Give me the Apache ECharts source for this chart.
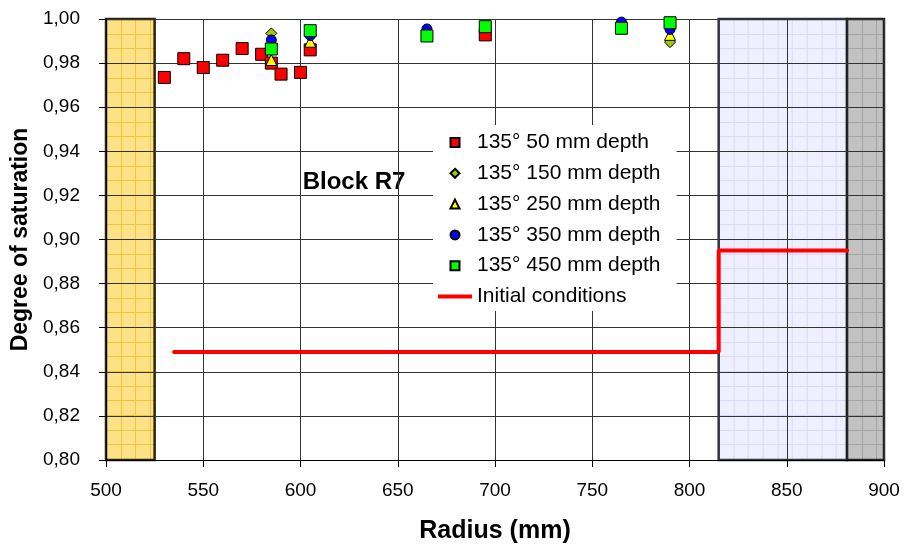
<!DOCTYPE html>
<html>
<head>
<meta charset="utf-8">
<script src="https://cdn.jsdelivr.net/npm/echarts@6/dist/echarts.min.js"></script>
<style>html,body{margin:0;padding:0;background:#fff}#c{width:909px;height:549px}</style>
</head>
<body>
<div id="c"></div>
<script>
// ---- data ----
const seriesNames = ['135° 50 mm depth', '135° 150 mm depth', '135° 250 mm depth', '135° 350 mm depth', '135° 450 mm depth', 'Initial conditions'];
const d50 = [[530,0.9735],[540,0.982],[550,0.978],[560,0.9813],[570,0.9866],[580,0.984],[585,0.980],[590,0.975],[600,0.9758],[605,0.986],[695,0.9928]];
const d150 = [[585,0.9935],[790,0.9895]];
const d250 = [[585,0.9814],[605,0.9897],[790,0.9928]];
const d350 = [[585,0.9905],[605,0.9925],[665,0.9955],[765,0.9986],[790,0.9953]];
const d450 = [[585,0.9864],[605,0.9947],[665,0.9923],[695,0.9965],[765,0.9958],[790,0.9983]];
const initial = [[535,0.849],[815,0.849],[815,0.895],[881,0.895]];
// shaded zones [xStart, xEnd]
const zoneYellow = [500, 525];
const zoneBlue = [815, 881];
const zoneGray = [881, 900];
const yTicks = { min: 0.80, max: 1.00, interval: 0.02 };
const xTicks = { min: 500, max: 900, interval: 50 };

const FONT = "'Liberation Sans', Arial, sans-serif";
const ICON_RECT = 'path://M0,0L10,0L10,10L0,10Z';
const ICON_DIAMOND = 'path://M5,0L10,5L5,10L0,5Z';
const ICON_TRI = 'path://M5,0L10,10L0,10Z';
const ICON_LINE = 'path://M0,0L34,0L34,4L0,4Z';
const legendIcons = [ICON_RECT, ICON_DIAMOND, ICON_TRI, 'circle', ICON_RECT, ICON_LINE];

function makePattern(bg, line) {
  const cv = document.createElement('canvas');
  cv.width = 44; cv.height = 44;
  const ctx = cv.getContext('2d');
  ctx.fillStyle = bg; ctx.fillRect(0, 0, 44, 44);
  ctx.fillStyle = line;
  [0, 15, 29].forEach(p => { ctx.fillRect(p, 0, 1, 44); ctx.fillRect(0, p, 44, 1); });
  return cv;
}
const patY = makePattern('#FDE186', '#F2C636');
const patB = makePattern('#EFEFFF', '#DADAF6');
const patG = makePattern('#C2C2C2', '#A4A4A4');

const chart = echarts.init(document.getElementById('c'));

function buildOption(anchors) {
  function zone(range, pat, border, anchor) {
    return [{ xAxis: range[0], yAxis: yTicks.min,
              itemStyle: { color: { image: pat, repeat: 'repeat', x: anchor ? anchor[0] : 0, y: anchor ? anchor[1] : 0 },
                           borderColor: border, borderWidth: 2.5 } },
            { xAxis: range[1], yAxis: yTicks.max }];
  }
  const mk = (name, data, symbol, color, size) => ({
    name, type: 'scatter', data, symbol, symbolSize: size, z: 5,
    itemStyle: { color, borderColor: '#000', borderWidth: 1, opacity: 1 },
    emphasis: { disabled: true }
  });
  return {
    animation: false,
    textStyle: { fontFamily: FONT },
    grid: { left: 106, right: 25, top: 19, bottom: 88 },
    xAxis: {
      type: 'value', min: xTicks.min, max: xTicks.max, interval: xTicks.interval, z: 3,
      name: 'Radius (mm)', nameLocation: 'middle', nameGap: 59,
      nameTextStyle: { fontSize: 25, fontWeight: 'bold', color: '#000', fontFamily: FONT },
      axisLine: { show: true, lineStyle: { color: '#000', width: 1 } },
      axisTick: { show: true, length: 7, lineStyle: { color: '#000' } },
      axisLabel: { fontSize: 19, color: '#000', margin: 21, fontFamily: FONT },
      splitLine: { show: true, lineStyle: { color: '#333', width: 1 } }
    },
    yAxis: {
      type: 'value', min: yTicks.min, max: yTicks.max, interval: yTicks.interval, z: 3,
      name: 'Degree of saturation', nameLocation: 'middle', nameGap: 67,
      nameTextStyle: { fontSize: 23, fontWeight: 'bold', color: '#000', fontFamily: FONT },
      axisLine: { show: true, lineStyle: { color: '#000', width: 1 } },
      axisTick: { show: true, length: 7, lineStyle: { color: '#000' } },
      axisLabel: { fontSize: 19, color: '#000', margin: 26, fontFamily: FONT,
                   formatter: v => v.toFixed(2).replace('.', ',') },
      splitLine: { show: true, lineStyle: { color: '#333', width: 1 } }
    },
    legend: {
      orient: 'vertical', left: 433, top: 125, z: 10,
      padding: [7, 16, 4, 5], backgroundColor: '#fff',
      itemWidth: 34, itemHeight: 9, itemGap: 9.8,
      textStyle: { fontSize: 21, color: '#000', lineHeight: 20, fontFamily: FONT },
      data: seriesNames.map((n, i) => ({ name: n, icon: legendIcons[i] })),
      selectedMode: false
    },
    graphic: [{
      type: 'group', left: 273, top: 154, z: 10,
      children: [
        { type: 'rect', shape: { x: 0, y: 0, width: 138, height: 62 }, style: { fill: '#fff' } },
        { type: 'text', x: 81, y: 28, style: { text: 'Block R7', font: 'bold 24px ' + FONT, fill: '#000', align: 'center', verticalAlign: 'middle' } }
      ]
    }],
    series: [
      { name: '_zones', type: 'line', data: [], z: 1, silent: true,
        markArea: { silent: true, data: [
          zone(zoneYellow, patY, '#2a2410', anchors && anchors.y),
          zone(zoneBlue, patB, '#33333f', anchors && anchors.b),
          zone(zoneGray, patG, '#222', anchors && anchors.g)
        ] } },
      mk(seriesNames[0], d50, 'rect', '#FF0000', 12),
      mk(seriesNames[1], d150, 'diamond', '#99CC00', 11),
      mk(seriesNames[2], d250, 'triangle', '#FFFF00', 11),
      mk(seriesNames[3], d350, 'circle', '#0000FF', 10),
      mk(seriesNames[4], d450, 'rect', '#00FF00', 12),
      { name: seriesNames[5], type: 'line', data: initial, symbol: 'none', showSymbol: false, z: 4,
        lineStyle: { color: '#FF0000', width: 4, cap: 'round' }, itemStyle: { color: '#FF0000', borderWidth: 0 },
        emphasis: { disabled: true } }
    ]
  };
}

chart.setOption(buildOption(null));
const px = v => chart.convertToPixel({ gridIndex: 0 }, v);
const anchors = {
  y: px([zoneYellow[0], yTicks.max]),
  b: px([zoneBlue[0], yTicks.max]),
  g: px([zoneGray[0], yTicks.max])
};
chart.setOption(buildOption(anchors), true);
</script>
</body>
</html>
